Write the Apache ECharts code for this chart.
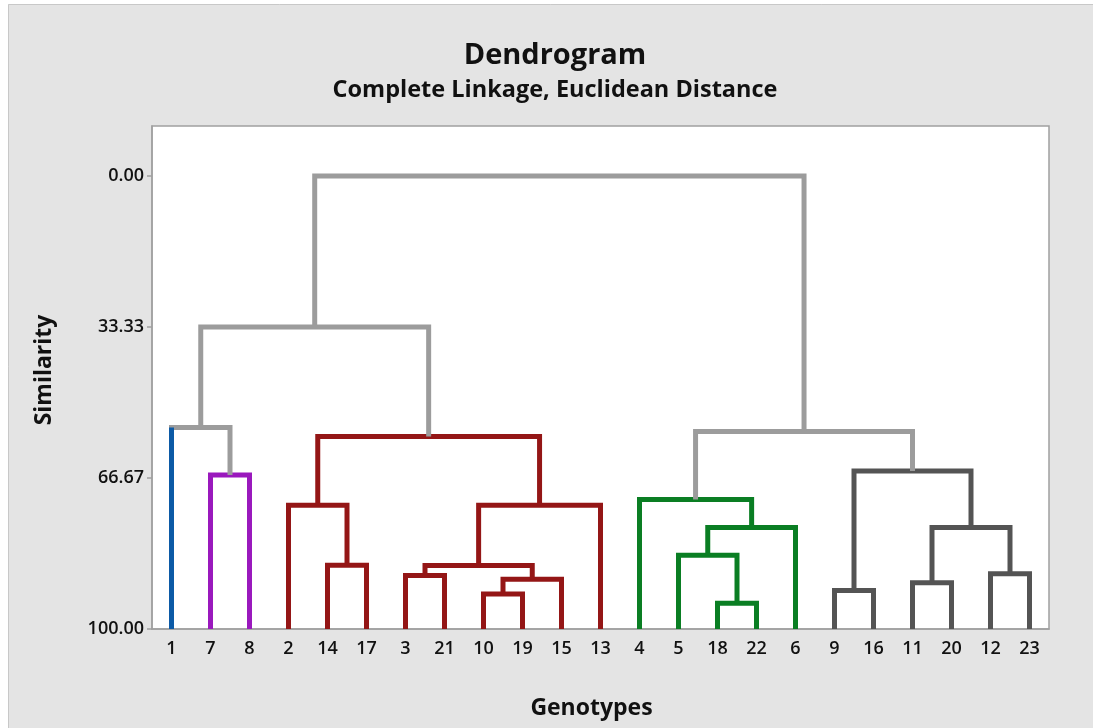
<!DOCTYPE html>
<html>
<head>
<meta charset="utf-8">
<script src="https://cdn.jsdelivr.net/npm/echarts@6/dist/echarts.min.js"></script>
<style>
html,body{margin:0;padding:0;background:#fff;overflow:hidden;}
#chart{width:1093px;height:728px;}
</style>
</head>
<body>
<div id="chart"></div>
<script>
// Leaf order along the x axis (genotype labels)
const leafOrder = ['1','7','8','2','14','17','3','21','10','19','15','13','4','5','18','22','6','9','16','11','20','12','23'];
// Merges: id, left child, right child, similarity level, cluster colour key
const mergeId     = ['A','B','C','D','E','F','G','H','I','J','K','L','M','N','O','P','Q','R','S','T','U','V'];
const mergeLeft   = ['7','1','14','2','3','10','F','E','H','D','B','18','5','M','4','9','11','12','Q','P','O','K'];
const mergeRight  = ['8','A','17','C','21','19','15','G','13','I','J','22','L','6','N','16','20','23','R','S','T','U'];
const mergeLevel  = [66.0,55.5,85.9,72.7,88.2,92.3,89.0,86.0,72.7,57.5,33.33,94.3,83.7,77.6,71.4,91.5,89.8,87.8,77.6,65.1,56.4,0.0];
const mergeCluster= ['purple','gray','red','red','red','red','red','red','red','red','gray','green','green','green','green','dark','dark','dark','dark','dark','gray','gray'];
// Singleton clusters coloured on their own
const singletonLeaf = ['1'];
const singletonCluster = ['blue'];
// Y axis tick labels
const yTicks = [0, 33.33, 66.67, 100];

const palette = {blue:'#0c5aa6', purple:'#9a19bd', red:'#941616', green:'#0a7e23', dark:'#545454', gray:'#9c9c9c'};

// Build node positions
const pos = {}, lvl = {};
leafOrder.forEach((l,i)=>{ pos[l] = i + 0.5; lvl[l] = 100; });
mergeId.forEach((id,i)=>{
  pos[id] = (pos[mergeLeft[i]] + pos[mergeRight[i]]) / 2;
  lvl[id] = mergeLevel[i];
});
function legColor(child, mergeColor){
  const k = singletonLeaf.indexOf(child);
  return k >= 0 ? palette[singletonCluster[k]] : mergeColor;
}
const uShapes = [], legs = [];
mergeId.forEach((id,i)=>{
  const c = palette[mergeCluster[i]];
  const L = mergeLeft[i], R = mergeRight[i], h = mergeLevel[i];
  const cl = legColor(L,c), cr = legColor(R,c);
  const pts = [[pos[L],lvl[L]],[pos[L],h],[pos[R],h],[pos[R],lvl[R]]];
  uShapes.push({coords:pts, lineStyle:{color:c}});
  if (cl !== c) legs.push({coords:[pts[0],pts[1]], lineStyle:{color:cl}});
  if (cr !== c) legs.push({coords:[pts[3],pts[2]], lineStyle:{color:cr}});
});

const FONT = 'Open Sans';
const chart = echarts.init(document.getElementById('chart'));
chart.setOption({
  backgroundColor:'#e4e4e4',
  animation:false,
  graphic:[
    {type:'rect', z:-100, silent:true, shape:{x:0,y:0,width:1093,height:4}, style:{fill:'#ffffff'}},
    {type:'rect', z:-100, silent:true, shape:{x:0,y:0,width:8,height:728}, style:{fill:'#ffffff'}},
    {type:'polyline', z:-99, silent:true, shape:{points:[[8.5,728],[8.5,4.5],[1093,4.5]]}, style:{fill:null, stroke:'#c8c8c8', lineWidth:1}}
  ],
  title:{
    text:'Dendrogram', subtext:'Complete Linkage, Euclidean Distance',
    left:550, top:36, textAlign:'center', itemGap:8,
    textStyle:{fontFamily:FONT, fontSize:29, fontWeight:'bold', color:'#111'},
    subtextStyle:{fontFamily:FONT, fontSize:23.5, fontWeight:'bold', color:'#111'}
  },
  grid:{left:152, right:44, top:126, bottom:99, show:true, backgroundColor:'#ffffff', borderColor:'#a0a0a0', borderWidth:1.5},
  xAxis:[
    {type:'category', data:leafOrder, boundaryGap:true, position:'bottom',
     name:'Genotypes', nameLocation:'middle', nameGap:68,
     nameTextStyle:{fontFamily:FONT, fontSize:23, fontWeight:'bold', color:'#111', padding:[0,18,0,0]},
     axisLine:{onZero:false, lineStyle:{color:'#a0a0a0', width:1.5}},
     axisTick:{alignWithLabel:true, length:5, lineStyle:{color:'#a0a0a0', width:1.5}},
     axisLabel:{fontFamily:FONT, fontSize:18, fontWeight:600, color:'#111', margin:11, interval:0},
     splitLine:{show:false}},
    {type:'value', min:0, max:leafOrder.length, show:false, axisLine:{onZero:false}}
  ],
  yAxis:{type:'value', inverse:true, min:-11.04, max:100,
     name:'Similarity', nameLocation:'middle', nameGap:96, nameRotate:90,
     nameTextStyle:{fontFamily:FONT, fontSize:23, fontWeight:'bold', color:'#111', padding:[0,0,0,15]},
     axisLine:{show:true, onZero:false, lineStyle:{color:'#a0a0a0', width:1.5}},
     axisTick:{show:true, length:5, customValues:yTicks, lineStyle:{color:'#a0a0a0', width:1.5}},
     axisLabel:{fontFamily:FONT, fontSize:18, fontWeight:600, color:'#111', margin:8, customValues:yTicks, formatter:v=>Number(v).toFixed(2)},
     splitLine:{show:false}},
  series:[{
    type:'lines', coordinateSystem:'cartesian2d', xAxisIndex:1, yAxisIndex:0,
    polyline:true, silent:true,
    lineStyle:{width:5, opacity:1, join:'miter', cap:'butt'},
    data:uShapes
  },{
    type:'lines', coordinateSystem:'cartesian2d', xAxisIndex:1, yAxisIndex:0,
    polyline:true, silent:true, z:3,
    lineStyle:{width:5, opacity:1, cap:'butt'},
    data:legs
  }]
});
</script>
</body>
</html>
